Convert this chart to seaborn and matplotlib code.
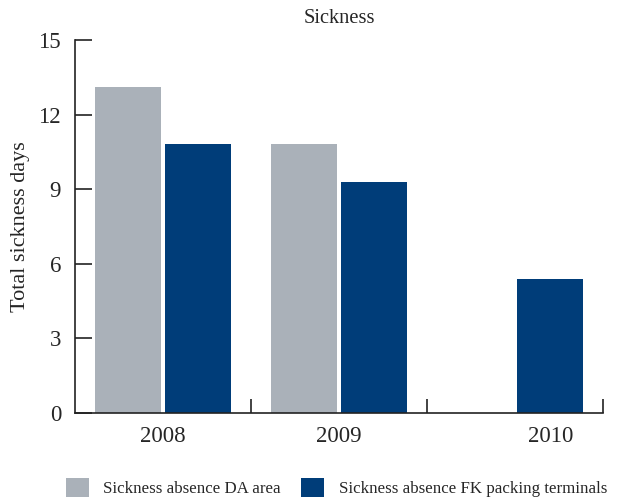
import numpy as np
import pandas as pd
import matplotlib
matplotlib.use("Agg")
import matplotlib.pyplot as plt
import seaborn as sns

years = ["2008", "2009", "2010"]
da_area = [13.1, 10.8, np.nan]
fk_terminals = [10.8, 9.3, 5.4]
series_names = ["Sickness absence DA area", "Sickness absence FK packing terminals"]
series_colors = ["#AAB1B9", "#003D79"]
y_ticks = [0, 3, 6, 9, 12, 15]

df = pd.DataFrame({
    "year": years * 2,
    "series": [series_names[0]] * len(years) + [series_names[1]] * len(years),
    "days": da_area + fk_terminals,
}).dropna()

sns.set_theme(style="white")
plt.rcParams["font.family"] = ["Liberation Serif", "DejaVu Serif"]

fig = plt.figure(figsize=(6.28, 4.97), dpi=100)
ax = fig.add_axes([75 / 628, 1 - 413 / 497, 528 / 628, 373 / 497])

sns.barplot(data=df, x="year", y="days", hue="series", order=years,
            hue_order=series_names, palette=series_colors, width=0.8,
            gap=0.07, saturation=1, errorbar=None, linewidth=0, ax=ax)

ax.set_xlim(-0.5, len(years) - 0.5)
ax.set_ylim(0, 15)
ax.set_yticks(y_ticks)
ax.set_yticklabels([str(t) for t in y_ticks], fontsize=16.5)

# year labels centred under the bars that are present in each group
centers = {}
for patch in ax.patches:
    h = patch.get_height()
    if np.isfinite(h) and h > 0 and patch.get_width() < 0.5:
        cx = patch.get_x() + patch.get_width() / 2
        idx = int(round(cx))
        centers.setdefault(idx, []).append(cx)
label_pos = [np.mean(centers[i]) for i in range(len(years))]
ax.set_xticks(label_pos)
ax.set_xticklabels(years, fontsize=16.5)
ax.set_xticks(np.arange(len(years)) + 0.5, minor=True)
ax.tick_params(axis="x", which="major", bottom=True, length=0, pad=9)
ax.tick_params(axis="x", which="minor", bottom=True, direction="in",
               length=10, width=1.2, color="#222222")
ax.tick_params(axis="y", which="major", left=True, direction="in",
               length=12, width=1.2, color="#222222", pad=10)

for side in ["top", "right"]:
    ax.spines[side].set_visible(False)
for side in ["left", "bottom"]:
    ax.spines[side].set_color("#222222")
    ax.spines[side].set_linewidth(1.2)

ax.set_xlabel("")
ax.set_ylabel("Total sickness days", fontsize=16, labelpad=6)
ax.set_title("Sickness", fontsize=14.8, pad=12)

sns.move_legend(ax, "lower left", bbox_to_anchor=(66 / 628, 0.0),
                bbox_transform=fig.transFigure, ncol=2, frameon=False,
                title=None, fontsize=12.2, handlelength=1.35, handleheight=1.35,
                columnspacing=1.2, handletextpad=0.85, borderaxespad=0,
                borderpad=0.0)

fig.savefig("out.png", dpi=100)
